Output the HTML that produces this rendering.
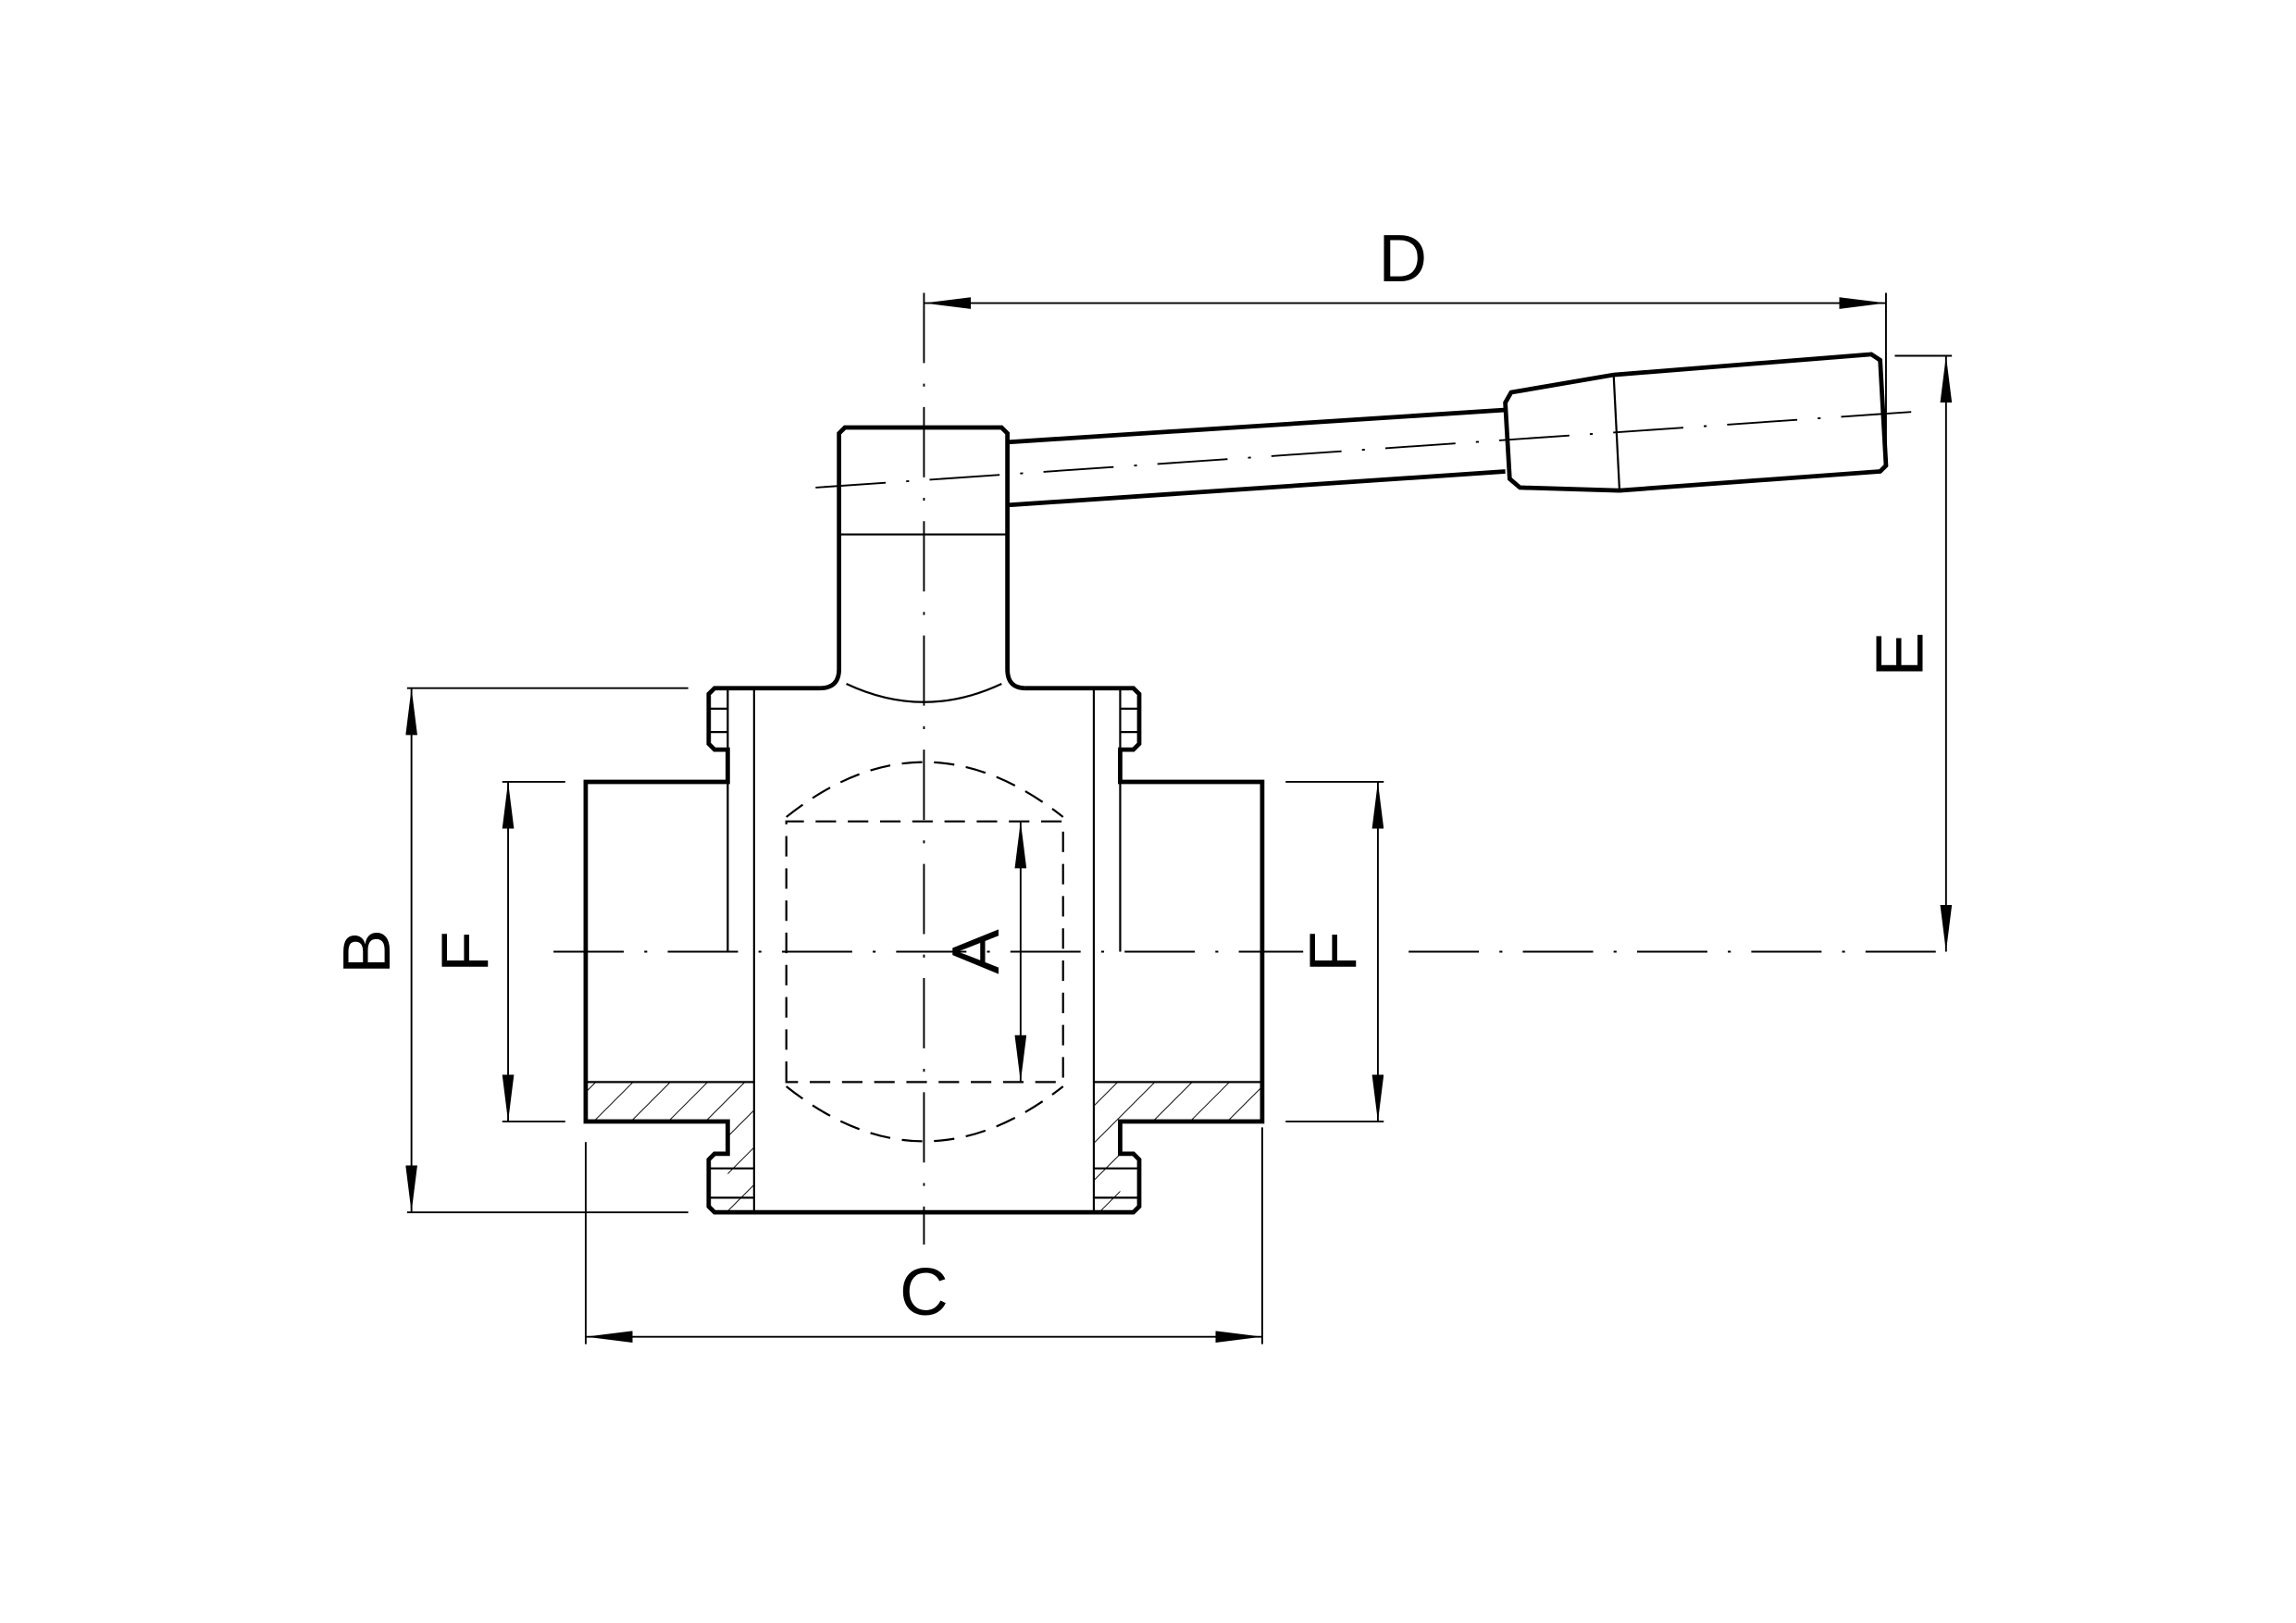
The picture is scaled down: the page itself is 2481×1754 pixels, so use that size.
<!DOCTYPE html>
<html><head><meta charset="utf-8"><style>
html,body{margin:0;padding:0;background:#fff;}
svg{display:block;}
text{font-family:"Liberation Sans",sans-serif;font-size:46px;fill:#000;}
</style></head><body>
<svg width="2481" height="1754" viewBox="0 0 1568 1108.5" preserveAspectRatio="none" xmlns="http://www.w3.org/2000/svg">
<defs>
<marker id="a" viewBox="0 0 32 8" refX="32" refY="4" markerWidth="32" markerHeight="8" markerUnits="userSpaceOnUse" orient="auto-start-reverse">
<path d="M0,0 L32,4 L0,8 Z" fill="#000"/></marker>
<pattern id="h" patternUnits="userSpaceOnUse" width="18" height="18" patternTransform="rotate(45)">
<line x1="0" y1="0" x2="0" y2="18" stroke="#000" stroke-width="1.2"/></pattern>
</defs>
<rect width="1568" height="1109" fill="#fff"/>
<g fill="none" stroke="#000">
<g stroke-width="1.2" stroke-dasharray="48,14,2,14">
<line x1="631" y1="200" x2="631" y2="850"/>
<line x1="378" y1="650" x2="890" y2="650"/>
<line x1="962" y1="650" x2="1328" y2="650"/>
<line x1="557" y1="333" x2="1310" y2="281"/>
</g>
<path d="M400,739 H515 V828 H497 V766 H400 Z" fill="url(#h)" stroke="none"/>
<path d="M862,739 H747 V828 H765 V766 H862 Z" fill="url(#h)" stroke="none"/>
<g stroke-width="3">
<path d="M560,470 H488 L484,474 V508 L488,512 H497 V534 H400 V766 H497 V788 H488 L484,792 V824 L488,828 H774 L778,824 V792 L774,788 H765 V766 H862 V534 H765 V512 H774 L778,508 V474 L774,470 H700"/>
<path d="M560,470 Q573,470 573,457 V296 L577,292 H684 L688,296 V457 Q688,470 700,470"/>
<path d="M688,302 L1028,280 M688,345 L1028,322"/>
<path d="M1028,275 L1032,268 L1102,256 L1278,242 L1284,246 L1288,318 L1284,322 L1106,335 L1038,333 L1031,327 Z"/>
</g>
<g stroke-width="1.4">
<line x1="573" y1="365" x2="688" y2="365"/>
<line x1="1102" y1="256" x2="1106" y2="335"/>
<line x1="515" y1="470" x2="515" y2="828"/>
<line x1="747" y1="470" x2="747" y2="828"/>
<line x1="497" y1="534" x2="497" y2="650"/>
<line x1="765" y1="534" x2="765" y2="650"/>
<line x1="400" y1="739" x2="515" y2="739"/>
<line x1="747" y1="739" x2="862" y2="739"/>
<line x1="497" y1="470" x2="497" y2="512"/><line x1="765" y1="470" x2="765" y2="512"/>
<line x1="484" y1="484" x2="497" y2="484"/><line x1="484" y1="500" x2="497" y2="500"/>
<line x1="765" y1="484" x2="778" y2="484"/><line x1="765" y1="500" x2="778" y2="500"/>
<line x1="484" y1="798" x2="515" y2="798"/><line x1="484" y1="818" x2="515" y2="818"/>
<line x1="747" y1="798" x2="778" y2="798"/><line x1="747" y1="818" x2="778" y2="818"/>
<path d="M578,467 Q631,492 684,467"/>
</g>
<g stroke-width="1.4" stroke-dasharray="14,8">
<path d="M537,739 V561 H726 V739 Z"/>
<path d="M537,558 Q631,483 726,558"/>
<path d="M537,742 Q631,817 726,742"/>
</g>
<g stroke-width="1.2">
<line x1="278" y1="470" x2="470" y2="470"/><line x1="278" y1="828" x2="470" y2="828"/>
<line x1="281" y1="470" x2="281" y2="828" marker-start="url(#a)" marker-end="url(#a)"/>
<line x1="343" y1="534" x2="386" y2="534"/><line x1="343" y1="766" x2="386" y2="766"/>
<line x1="347" y1="534" x2="347" y2="766" marker-start="url(#a)" marker-end="url(#a)"/>
<line x1="878" y1="534" x2="945" y2="534"/><line x1="878" y1="766" x2="945" y2="766"/>
<line x1="941" y1="534" x2="941" y2="766" marker-start="url(#a)" marker-end="url(#a)"/>
<line x1="697" y1="561" x2="697" y2="739" marker-start="url(#a)" marker-end="url(#a)"/>
<line x1="400" y1="780" x2="400" y2="918"/><line x1="862" y1="770" x2="862" y2="918"/>
<line x1="400" y1="913" x2="862" y2="913" marker-start="url(#a)" marker-end="url(#a)"/>
<line x1="1288" y1="200" x2="1288" y2="318"/>
<line x1="631" y1="207" x2="1288" y2="207" marker-start="url(#a)" marker-end="url(#a)"/>
<line x1="1294" y1="243" x2="1333" y2="243"/>
<line x1="1329" y1="243" x2="1329" y2="650" marker-start="url(#a)" marker-end="url(#a)"/>
</g>
</g>
<text x="958" y="192" text-anchor="middle">D</text>
<text x="631" y="898" text-anchor="middle">C</text>
<text transform="translate(266,650) rotate(-90)" text-anchor="middle">B</text>
<text transform="translate(333,650) rotate(-90)" text-anchor="middle">F</text>
<text transform="translate(926,650) rotate(-90)" text-anchor="middle">F</text>
<text transform="translate(682,650) rotate(-90)" text-anchor="middle">A</text>
<text transform="translate(1313,447) rotate(-90)" text-anchor="middle">E</text>
</svg>
</body></html>
